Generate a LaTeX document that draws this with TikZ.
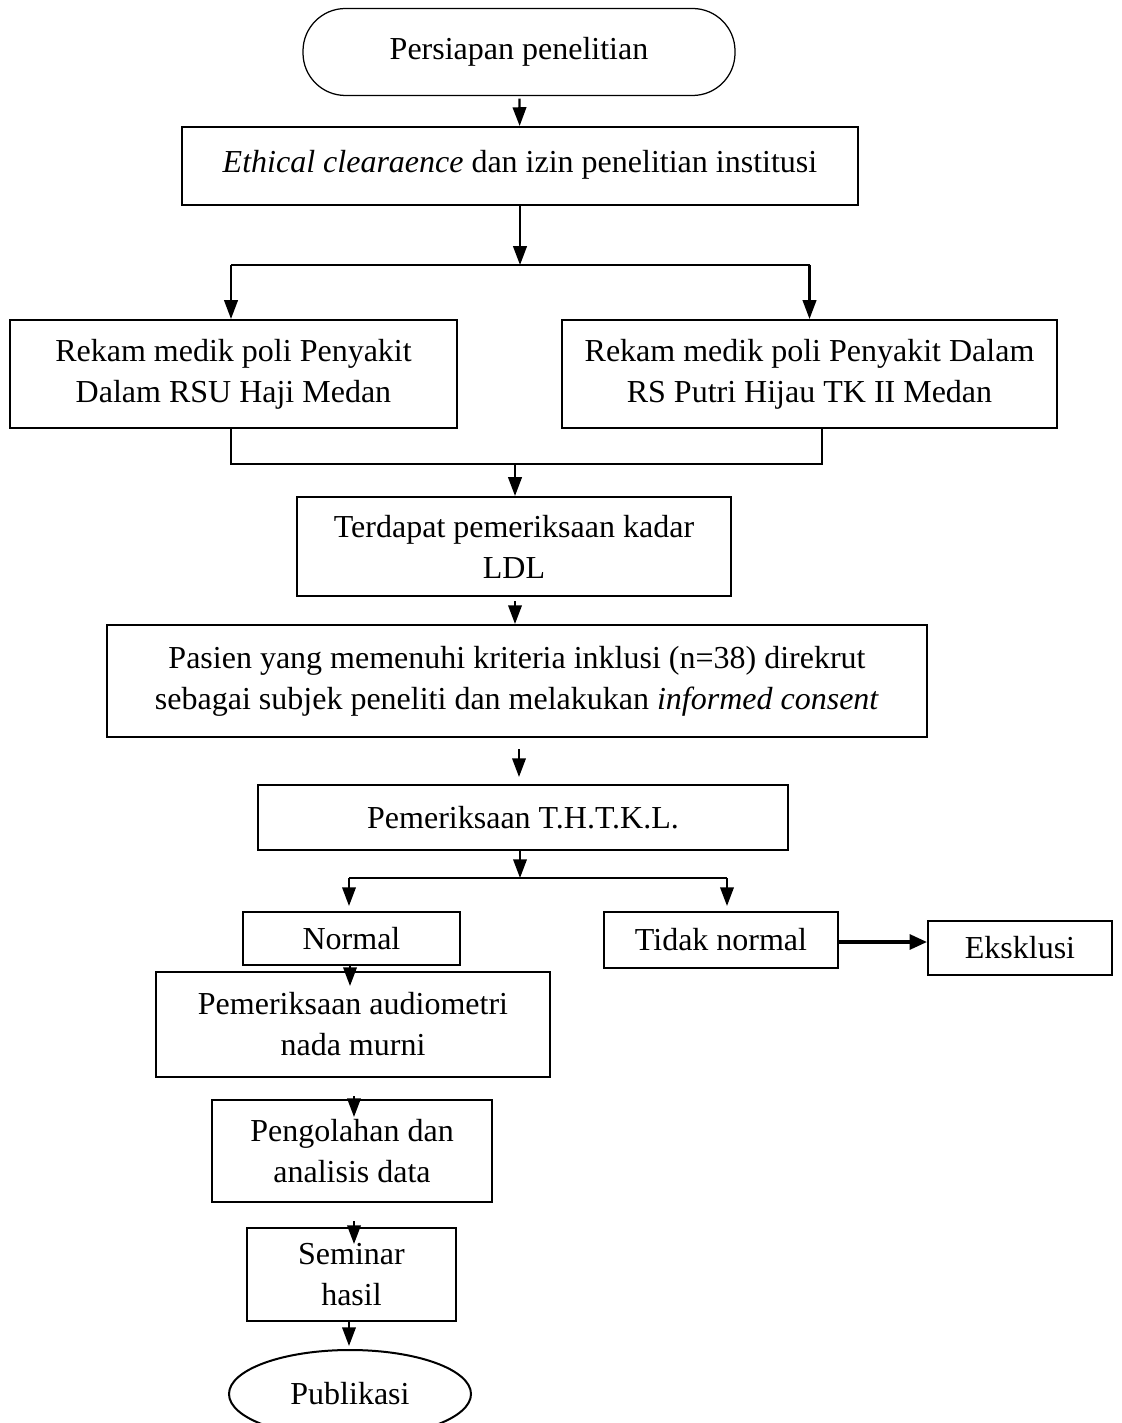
\documentclass[tikz,border=0pt]{standalone}
\usepackage{fontspec}
\setmainfont{Liberation Serif}
\usepackage{tikz}
\usetikzlibrary{arrows.meta,positioning,calc,shapes.geometric}

\begin{document}
\begin{tikzpicture}[
    x=0.4pt, y=-0.4pt,
    every node/.style={font=\fontsize{12.8}{16.4}\selectfont},
    sz/.style 2 args={minimum width=#1*0.4pt, minimum height=#2*0.4pt},
    kotak/.style={rectangle, draw, line width=0.8pt, align=center,
                  inner sep=2pt},
    mulai/.style={rectangle, draw, line width=0.5pt, rounded corners=17pt,
                  align=center},
    akhir/.style={ellipse, draw, line width=0.8pt, inner sep=0pt},
    garis/.style={line width=0.9pt},
    arr/.style={-{Triangle[length=7.5pt,width=5.4pt]}, line width=0.9pt},
  ]
  \useasboundingbox (0,0) rectangle (1121,1423);

  % Awal
  \node[mulai, sz={432}{87}] (mulai) at (519,52) {Persiapan penelitian};
  \node[kotak, sz={676}{78}] (etik) at (520,166)
    {\raisebox{3.5pt}{\textit{Ethical clearaence} dan izin penelitian institusi}};

  % Rekam medik
  \node[kotak, sz={447}{108}] (rsu) at (233.5,374)
    {Rekam medik poli Penyakit\\Dalam RSU Haji Medan};
  \node[kotak, sz={495}{108}] (putri) at (809.5,374)
    {Rekam medik poli Penyakit Dalam\\RS Putri Hijau TK II Medan};

  % Seleksi
  \node[kotak, sz={434}{99}] (ldl) at (514,546.5)
    {Terdapat pemeriksaan kadar\\LDL};
  \node[kotak, sz={820}{112}] (pasien) at (517,681)
    {Pasien yang memenuhi kriteria inklusi (n=38) direkrut\\
     sebagai subjek peneliti dan melakukan \textit{informed consent}};
  \node[kotak, sz={530}{65}] (tht) at (523,817.5) {Pemeriksaan T.H.T.K.L.};

  % Hasil THT
  \node[kotak, sz={217}{53}] (normal) at (351.5,938.5) {Normal};
  \node[kotak, sz={234}{56}] (tidak) at (721,940) {Tidak normal};
  \node[kotak, sz={184}{54}] (eks) at (1020,948) {Eksklusi};

  % Lanjutan
  \node[kotak, sz={394}{105}] (audio) at (353,1024.5)
    {Pemeriksaan audiometri\\nada murni};
  \node[kotak, sz={280}{102}] (olah) at (352,1151)
    {Pengolahan dan\\analisis data};
  \node[kotak, sz={209}{93}] (seminar) at (351.5,1274.5) {Seminar\\hasil};
  \node[akhir, sz={242}{88}] (publik) at (350,1394) {Publikasi};

  % Titik cabang
  \coordinate (c1) at (520,265);
  \coordinate (c2) at (515,464);
  \coordinate (c3) at (520,878);

  % Penghubung
  \draw[arr, shorten <=1pt] (mulai) -- (etik);
  \draw[arr] (etik) -- (c1);
  \draw[garis] ([xshift=-1pt]rsu.north |- c1) -- (putri.north |- c1);
  \draw[arr] ([xshift=-1pt]rsu.north |- c1) -- ([xshift=-1pt]rsu.north);
  \draw[arr] (putri.north |- c1) -- (putri.north);

  \draw[garis] ([xshift=-1pt]rsu.south) -- ([xshift=-1pt]rsu.south |- c2)
    -- ([xshift=5pt]putri.south |- c2) -- ([xshift=5pt]putri.south);
  \draw[arr] (c2) -- (ldl.north -| c2);
  \draw[arr, shorten <=1.6pt] (ldl.south -| c2) -- (pasien.north -| c2);
  \draw[arr, shorten <=4.4pt, shorten >=2.8pt]
    ([xshift=0.8pt]pasien.south) -- ([xshift=0.8pt]pasien.south |- tht.north);

  \draw[arr] (tht.south -| c3) -- (c3);
  \draw[garis] ([xshift=-1pt]normal.north |- c3) -- ([xshift=2.4pt]tidak.north |- c3);
  \draw[arr, shorten >=2pt] ([xshift=-1pt]normal.north |- c3) -- ([xshift=-1pt]normal.north);
  \draw[arr, shorten >=2pt] ([xshift=2.4pt]tidak.north |- c3) -- ([xshift=2.4pt]tidak.north);
  \draw[-{Triangle[length=7pt,width=6pt]}, line width=1.3pt]
    ([yshift=-0.8pt]tidak.east) -- ([yshift=-0.8pt]tidak.east -| eks.west);

  \draw[arr] ([xshift=-0.6pt]normal.south) -- ([xshift=-0.6pt,yshift=-6pt]normal.south |- audio.north);
  \draw[arr, shorten <=7.2pt] ([xshift=0.4pt]audio.south) -- ([xshift=0.4pt,yshift=-7.2pt]audio.south |- olah.north);
  \draw[arr, shorten <=7.2pt] ([xshift=0.8pt]olah.south) -- ([xshift=0.8pt,yshift=-6.8pt]olah.south |- seminar.north);
  \draw[arr] ([xshift=-1pt]seminar.south) -- ([xshift=-1pt,yshift=1.2pt]seminar.south |- publik.north);
\end{tikzpicture}
\end{document}
